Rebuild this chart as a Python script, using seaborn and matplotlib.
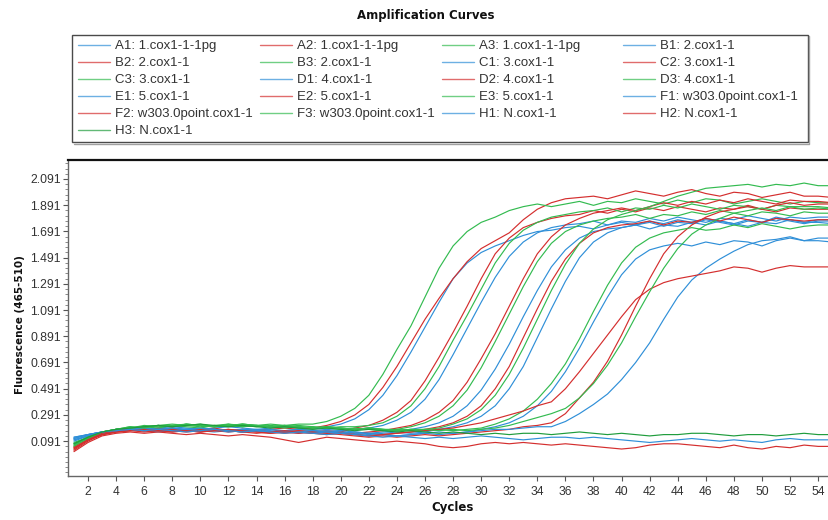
import numpy as np
import pandas as pd
import matplotlib
matplotlib.use("Agg")
import matplotlib.pyplot as plt
from matplotlib.lines import Line2D
from matplotlib.patches import Rectangle
from matplotlib.ticker import FixedLocator, FormatStrFormatter
import seaborn as sns

# Fluorescence (465-510) per cycle, cycles 1..55, one list per well
A1 = [0.10, 0.13, 0.16, 0.18, 0.19, 0.18, 0.19, 0.20, 0.19, 0.18, 0.19, 0.20, 0.19, 0.18, 0.19, 0.20, 0.19, 0.18,
      0.20, 0.22, 0.26, 0.33, 0.44, 0.59, 0.77, 0.96, 1.15, 1.33, 1.45, 1.53, 1.58, 1.62, 1.66, 1.69, 1.70, 1.72,
      1.73, 1.71, 1.74, 1.76, 1.74, 1.77, 1.75, 1.78, 1.76, 1.79, 1.77, 1.75, 1.78, 1.76, 1.80, 1.78, 1.76, 1.78, 1.78]
A2 = [0.05, 0.11, 0.15, 0.17, 0.18, 0.17, 0.19, 0.18, 0.17, 0.18, 0.19, 0.17, 0.18, 0.17, 0.18, 0.19, 0.18, 0.19,
      0.21, 0.24, 0.29, 0.37, 0.50, 0.66, 0.84, 1.02, 1.18, 1.33, 1.46, 1.56, 1.62, 1.68, 1.78, 1.86, 1.91, 1.94,
      1.95, 1.96, 1.94, 1.97, 2.00, 1.98, 1.96, 1.99, 2.01, 1.98, 1.96, 1.99, 1.98, 1.95, 1.97, 1.99, 1.96, 1.96, 1.95]
A3 = [0.08, 0.12, 0.16, 0.18, 0.19, 0.20, 0.21, 0.20, 0.21, 0.22, 0.20, 0.21, 0.20, 0.21, 0.22, 0.21, 0.22,
      0.22, 0.24, 0.28, 0.34, 0.44, 0.60, 0.79, 0.97, 1.19, 1.41, 1.58, 1.69, 1.76, 1.80, 1.85, 1.88, 1.90, 1.88,
      1.90, 1.92, 1.89, 1.92, 1.91, 1.94, 1.92, 1.90, 1.93, 1.91, 1.94, 1.93, 1.90, 1.92, 1.94, 1.92, 1.90, 1.92, 1.91, 1.91]
B1 = [0.09, 0.13, 0.16, 0.17, 0.18, 0.19, 0.18, 0.17, 0.18, 0.19, 0.18, 0.17, 0.18, 0.17, 0.16, 0.17, 0.18, 0.17,
      0.18, 0.17, 0.18, 0.19, 0.21, 0.25, 0.31, 0.41, 0.56, 0.75, 0.95, 1.15, 1.34, 1.50, 1.61, 1.68, 1.72, 1.74,
      1.75, 1.77, 1.74, 1.77, 1.76, 1.79, 1.77, 1.80, 1.78, 1.76, 1.79, 1.78, 1.81, 1.79, 1.77, 1.80, 1.79, 1.80, 1.80]
B2 = [0.03, 0.10, 0.14, 0.17, 0.18, 0.17, 0.18, 0.19, 0.17, 0.16, 0.18, 0.17, 0.16, 0.17, 0.18, 0.16, 0.17, 0.16,
      0.17, 0.16, 0.19, 0.21, 0.25, 0.31, 0.40, 0.55, 0.73, 0.92, 1.12, 1.33, 1.52, 1.64, 1.72, 1.76, 1.79, 1.81,
      1.82, 1.85, 1.83, 1.86, 1.84, 1.87, 1.85, 1.88, 1.86, 1.84, 1.87, 1.86, 1.89, 1.86, 1.84, 1.87, 1.86, 1.86, 1.86]
B3 = [0.07, 0.12, 0.16, 0.18, 0.20, 0.19, 0.21, 0.20, 0.22, 0.21, 0.20, 0.22, 0.21, 0.20, 0.21, 0.20, 0.21, 0.20,
      0.19, 0.20, 0.20, 0.21, 0.23, 0.28, 0.36, 0.49, 0.66, 0.86, 1.05, 1.25, 1.45, 1.60, 1.70, 1.76, 1.80, 1.82,
      1.84, 1.85, 1.87, 1.84, 1.87, 1.86, 1.89, 1.87, 1.90, 1.88, 1.86, 1.89, 1.88, 1.86, 1.89, 1.88, 1.88, 1.88, 1.87]
C1 = [0.11, 0.14, 0.16, 0.17, 0.18, 0.17, 0.18, 0.19, 0.18, 0.17, 0.16, 0.17, 0.18, 0.17, 0.16, 0.17, 0.18, 0.17,
      0.16, 0.17, 0.16, 0.15, 0.16, 0.17, 0.18, 0.20, 0.23, 0.28, 0.36, 0.48, 0.64, 0.83, 1.04, 1.24, 1.42, 1.55,
      1.64, 1.69, 1.71, 1.72, 1.74, 1.71, 1.74, 1.73, 1.76, 1.74, 1.77, 1.75, 1.73, 1.76, 1.75, 1.78, 1.76, 1.76, 1.75]
C2 = [0.04, 0.10, 0.14, 0.16, 0.17, 0.18, 0.17, 0.16, 0.17, 0.18, 0.17, 0.16, 0.17, 0.16, 0.15, 0.16, 0.17, 0.16,
      0.15, 0.16, 0.15, 0.16, 0.17, 0.19, 0.21, 0.25, 0.31, 0.40, 0.54, 0.72, 0.91, 1.12, 1.33, 1.52, 1.65, 1.74,
      1.79, 1.83, 1.85, 1.87, 1.85, 1.88, 1.91, 1.89, 1.92, 1.90, 1.93, 1.91, 1.94, 1.92, 1.90, 1.93, 1.92, 1.92, 1.91]
C3 = [0.06, 0.12, 0.15, 0.18, 0.19, 0.20, 0.19, 0.21, 0.20, 0.19, 0.21, 0.20, 0.22, 0.21, 0.20, 0.19, 0.20, 0.19,
      0.20, 0.19, 0.18, 0.19, 0.18, 0.18, 0.20, 0.23, 0.28, 0.36, 0.48, 0.65, 0.85, 1.06, 1.27, 1.46, 1.60, 1.69,
      1.74, 1.77, 1.79, 1.80, 1.82, 1.79, 1.82, 1.81, 1.84, 1.82, 1.85, 1.83, 1.81, 1.84, 1.83, 1.81, 1.84, 1.83, 1.83]
D1 = [0.12, 0.14, 0.16, 0.17, 0.18, 0.17, 0.16, 0.17, 0.18, 0.17, 0.18, 0.16, 0.17, 0.18, 0.17, 0.16, 0.15, 0.16,
      0.17, 0.16, 0.15, 0.14, 0.15, 0.16, 0.15, 0.16, 0.18, 0.20, 0.23, 0.28, 0.36, 0.49, 0.66, 0.88, 1.10, 1.31,
      1.49, 1.61, 1.68, 1.72, 1.74, 1.76, 1.73, 1.76, 1.75, 1.78, 1.76, 1.74, 1.77, 1.76, 1.79, 1.77, 1.75, 1.77, 1.77]
D2 = [0.02, 0.09, 0.14, 0.16, 0.17, 0.16, 0.17, 0.18, 0.17, 0.16, 0.17, 0.18, 0.16, 0.17, 0.16, 0.15, 0.16, 0.15,
      0.16, 0.15, 0.14, 0.13, 0.14, 0.15, 0.16, 0.18, 0.20, 0.23, 0.28, 0.36, 0.49, 0.66, 0.88, 1.10, 1.31, 1.48,
      1.60, 1.68, 1.72, 1.74, 1.75, 1.77, 1.74, 1.77, 1.76, 1.79, 1.77, 1.80, 1.78, 1.76, 1.79, 1.78, 1.77, 1.78, 1.78]
D3 = [0.05, 0.11, 0.15, 0.18, 0.19, 0.21, 0.20, 0.21, 0.22, 0.21, 0.20, 0.21, 0.22, 0.21, 0.20, 0.21, 0.20, 0.19,
      0.20, 0.19, 0.18, 0.19, 0.18, 0.17, 0.18, 0.18, 0.19, 0.22, 0.26, 0.33, 0.44, 0.60, 0.80, 1.02, 1.24, 1.44,
      1.60, 1.71, 1.78, 1.82, 1.85, 1.88, 1.92, 1.96, 1.99, 2.02, 2.03, 2.04, 2.05, 2.03, 2.05, 2.04, 2.06, 2.04, 2.04]
E1 = [0.10, 0.13, 0.15, 0.17, 0.18, 0.19, 0.18, 0.17, 0.18, 0.19, 0.18, 0.17, 0.16, 0.17, 0.18, 0.17, 0.16, 0.17,
      0.16, 0.15, 0.16, 0.15, 0.14, 0.13, 0.14, 0.15, 0.14, 0.15, 0.16, 0.18, 0.20, 0.23, 0.28, 0.36, 0.47, 0.62,
      0.80, 1.00, 1.19, 1.36, 1.48, 1.55, 1.58, 1.60, 1.58, 1.61, 1.59, 1.62, 1.61, 1.58, 1.62, 1.64, 1.62, 1.62, 1.61]
E2 = [0.03, 0.10, 0.14, 0.16, 0.17, 0.18, 0.17, 0.16, 0.17, 0.16, 0.17, 0.18, 0.17, 0.16, 0.15, 0.16, 0.15, 0.16,
      0.15, 0.14, 0.13, 0.12, 0.13, 0.12, 0.13, 0.14, 0.13, 0.14, 0.15, 0.16, 0.17, 0.18, 0.20, 0.21, 0.23, 0.30,
      0.42, 0.54, 0.70, 0.90, 1.12, 1.33, 1.52, 1.65, 1.74, 1.80, 1.84, 1.86, 1.88, 1.86, 1.89, 1.91, 1.89, 1.90, 1.90]
E3 = [0.07, 0.12, 0.16, 0.18, 0.20, 0.19, 0.21, 0.22, 0.21, 0.20, 0.21, 0.22, 0.20, 0.21, 0.20, 0.21, 0.20, 0.19,
      0.20, 0.19, 0.18, 0.19, 0.18, 0.17, 0.18, 0.17, 0.18, 0.17, 0.18, 0.19, 0.22, 0.26, 0.32, 0.41, 0.53, 0.68,
      0.87, 1.08, 1.28, 1.45, 1.57, 1.64, 1.68, 1.70, 1.72, 1.70, 1.71, 1.74, 1.72, 1.75, 1.73, 1.71, 1.73, 1.74, 1.74]
F1 = [0.11, 0.14, 0.16, 0.17, 0.18, 0.17, 0.18, 0.19, 0.18, 0.17, 0.18, 0.17, 0.16, 0.17, 0.16, 0.17, 0.16, 0.15,
      0.16, 0.15, 0.14, 0.15, 0.14, 0.13, 0.14, 0.15, 0.16, 0.15, 0.16, 0.17, 0.18, 0.18, 0.19, 0.20, 0.20, 0.24,
      0.30, 0.37, 0.45, 0.56, 0.69, 0.84, 1.02, 1.19, 1.32, 1.41, 1.48, 1.54, 1.59, 1.62, 1.63, 1.65, 1.62, 1.64, 1.64]
F2 = [0.04, 0.10, 0.15, 0.17, 0.18, 0.17, 0.18, 0.17, 0.16, 0.17, 0.18, 0.17, 0.16, 0.15, 0.16, 0.17, 0.16, 0.15,
      0.14, 0.15, 0.14, 0.13, 0.14, 0.15, 0.16, 0.17, 0.18, 0.19, 0.21, 0.23, 0.26, 0.29, 0.32, 0.36, 0.39, 0.49,
      0.62, 0.76, 0.90, 1.04, 1.17, 1.25, 1.30, 1.33, 1.35, 1.37, 1.39, 1.42, 1.41, 1.38, 1.41, 1.43, 1.42, 1.42, 1.42]
F3 = [0.06, 0.12, 0.16, 0.18, 0.19, 0.20, 0.21, 0.20, 0.22, 0.21, 0.20, 0.21, 0.22, 0.21, 0.20, 0.21, 0.19, 0.20,
      0.19, 0.18, 0.19, 0.18, 0.17, 0.18, 0.17, 0.18, 0.17, 0.18, 0.17, 0.18, 0.19, 0.21, 0.24, 0.27, 0.30, 0.34,
      0.42, 0.53, 0.67, 0.84, 1.04, 1.23, 1.41, 1.56, 1.67, 1.74, 1.79, 1.83, 1.85, 1.87, 1.85, 1.88, 1.86, 1.87, 1.86]
H1 = [0.12, 0.14, 0.16, 0.17, 0.18, 0.17, 0.18, 0.17, 0.16, 0.17, 0.18, 0.17, 0.16, 0.17, 0.16, 0.15, 0.16, 0.15,
      0.14, 0.15, 0.14, 0.13, 0.12, 0.13, 0.12, 0.11, 0.12, 0.11, 0.12, 0.13, 0.12, 0.11, 0.10, 0.11, 0.12, 0.12,
      0.11, 0.12, 0.11, 0.10, 0.09, 0.08, 0.09, 0.10, 0.11, 0.10, 0.09, 0.10, 0.09, 0.08, 0.10, 0.11, 0.10, 0.10, 0.10]
H2 = [0.01, 0.08, 0.13, 0.15, 0.16, 0.15, 0.16, 0.15, 0.14, 0.15, 0.14, 0.13, 0.14, 0.13, 0.12, 0.10, 0.08, 0.10,
      0.12, 0.11, 0.10, 0.09, 0.08, 0.09, 0.08, 0.07, 0.05, 0.04, 0.05, 0.07, 0.08, 0.07, 0.08, 0.07, 0.06, 0.07,
      0.06, 0.05, 0.04, 0.03, 0.04, 0.06, 0.07, 0.07, 0.06, 0.05, 0.04, 0.06, 0.04, 0.03, 0.05, 0.04, 0.06, 0.05, 0.05]
H3 = [0.07, 0.12, 0.16, 0.18, 0.19, 0.20, 0.21, 0.20, 0.21, 0.22, 0.21, 0.20, 0.21, 0.20, 0.19, 0.20, 0.19, 0.18,
      0.19, 0.18, 0.17, 0.18, 0.17, 0.16, 0.17, 0.16, 0.15, 0.16, 0.15, 0.14, 0.15, 0.14, 0.15, 0.15, 0.14, 0.15,
      0.16, 0.15, 0.14, 0.15, 0.14, 0.13, 0.14, 0.14, 0.15, 0.15, 0.14, 0.13, 0.14, 0.14, 0.13, 0.14, 0.15, 0.14, 0.14]

wells = ["A1", "A2", "A3", "B1", "B2", "B3", "C1", "C2", "C3", "D1", "D2", "D3",
         "E1", "E2", "E3", "F1", "F2", "F3", "H1", "H2", "H3"]
samples = ["1.cox1-1-1pg", "1.cox1-1-1pg", "1.cox1-1-1pg",
           "2.cox1-1", "2.cox1-1", "2.cox1-1",
           "3.cox1-1", "3.cox1-1", "3.cox1-1",
           "4.cox1-1", "4.cox1-1", "4.cox1-1",
           "5.cox1-1", "5.cox1-1", "5.cox1-1",
           "w303.0point.cox1-1", "w303.0point.cox1-1", "w303.0point.cox1-1",
           "N.cox1-1", "N.cox1-1", "N.cox1-1"]
series = [A1, A2, A3, B1, B2, B3, C1, C2, C3, D1, D2, D3,
          E1, E2, E3, F1, F2, F3, H1, H2, H3]

y_ticks = [0.091, 0.291, 0.491, 0.691, 0.891, 1.091, 1.291, 1.491, 1.691, 1.891, 2.091]
x_ticks = [2, 4, 6, 8, 10, 12, 14, 16, 18, 20, 22, 24, 26, 28, 30, 32, 34, 36, 38, 40,
           42, 44, 46, 48, 50, 52, 54]

# channel colours: column 1 blue, column 2 red, column 3 green
BLUE, RED, GREEN, DKGREEN = "#2f8fd8", "#d42e2e", "#33bb50", "#1f9c3c"
well_colors = {}
for w in wells:
    well_colors[w] = {"1": BLUE, "2": RED, "3": GREEN}[w[1]]
well_colors["H3"] = DKGREEN

rows = []
for w, vals in zip(wells, series):
    for cyc, v in enumerate(vals, start=1):
        rows.append((w, cyc, v))
df = pd.DataFrame(rows, columns=["well", "cycle", "fluor"])

sns.set_style("ticks")
plt.rcParams["font.family"] = ["Liberation Sans", "DejaVu Sans"]

W, H = 829, 520
fig = plt.figure(figsize=(W / 100, H / 100), dpi=100)
fig.patch.set_facecolor("white")
ax = fig.add_axes([68 / W, 44 / H, 767 / W, 316 / H])

sns.lineplot(data=df, x="cycle", y="fluor", hue="well", hue_order=wells,
             palette=well_colors, legend=False, linewidth=0.85,
             estimator=None, ax=ax)

ax.set_xlim(0.575, 55.2)
ax.set_ylim(-0.176, 2.236)
ax.set_xticks(x_ticks)
ax.set_yticks(y_ticks)
ax.yaxis.set_major_formatter(FormatStrFormatter("%.3f"))
ax.yaxis.set_minor_locator(FixedLocator(np.arange(-0.149, 2.236, 0.04)))

ax.tick_params(axis="both", which="major", direction="out", length=3.5, width=0.8,
               color="#555555", labelcolor="#333333", labelsize=8.7, pad=1.5)
ax.tick_params(axis="x", which="major", pad=4)
ax.tick_params(axis="y", which="minor", direction="out", length=2, width=0.6, color="#777777")

for side in ("left", "bottom"):
    ax.spines[side].set_color("#666666")
    ax.spines[side].set_linewidth(1.0)
ax.spines["top"].set_color("#111111")
ax.spines["top"].set_linewidth(1.6)
ax.spines["right"].set_visible(False)
ax.grid(False)

ax.set_xlabel("Cycles", fontfamily="DejaVu Sans", fontweight="bold", fontsize=8.5, color="#111111")
ax.xaxis.set_label_coords(0.502, -0.079)
ax.set_ylabel("Fluorescence (465-510)", fontfamily="DejaVu Sans", fontweight="bold",
              fontsize=7.5, color="#111111")
ax.yaxis.set_label_coords(-0.056, 0.48)

fig.text(426 / W, 1 - 15 / H, "Amplification Curves", ha="center", va="center",
         fontfamily="DejaVu Sans", fontweight="bold", fontsize=8.5, color="#111111")

# legend box with four fixed-width columns
fig.add_artist(Rectangle((72 / W, 1 - 142 / H), 736 / W, 107 / H, transform=fig.transFigure,
                         facecolor="white", edgecolor="#4a4a4a", linewidth=1.0, zorder=1))
fig.add_artist(Line2D([73.5 / W, 809.5 / W, 809.5 / W], [1 - 143.5 / H, 1 - 143.5 / H, 1 - 36 / H],
                      transform=fig.transFigure, color="#a0a0a0", linewidth=1.0, zorder=1))
col_x = [78, 260, 442, 623]
labels = [f"{w}: {s}" for w, s in zip(wells, samples)]
for k in range(4):
    col_wells = wells[k::4]
    col_labels = labels[k::4]
    handles = [Line2D([], [], color=well_colors[w], linewidth=1.0, alpha=0.7) for w in col_wells]
    fig.legend(handles, col_labels, loc="upper left",
               bbox_to_anchor=(col_x[k] / W, 1 - 40 / H), bbox_transform=fig.transFigure,
               frameon=False, borderpad=0, borderaxespad=0, handlelength=2.4,
               handletextpad=0.4, labelspacing=0.36, fontsize=9.5, labelcolor="#333333")

fig.savefig("out.png", dpi=100, facecolor="white")
